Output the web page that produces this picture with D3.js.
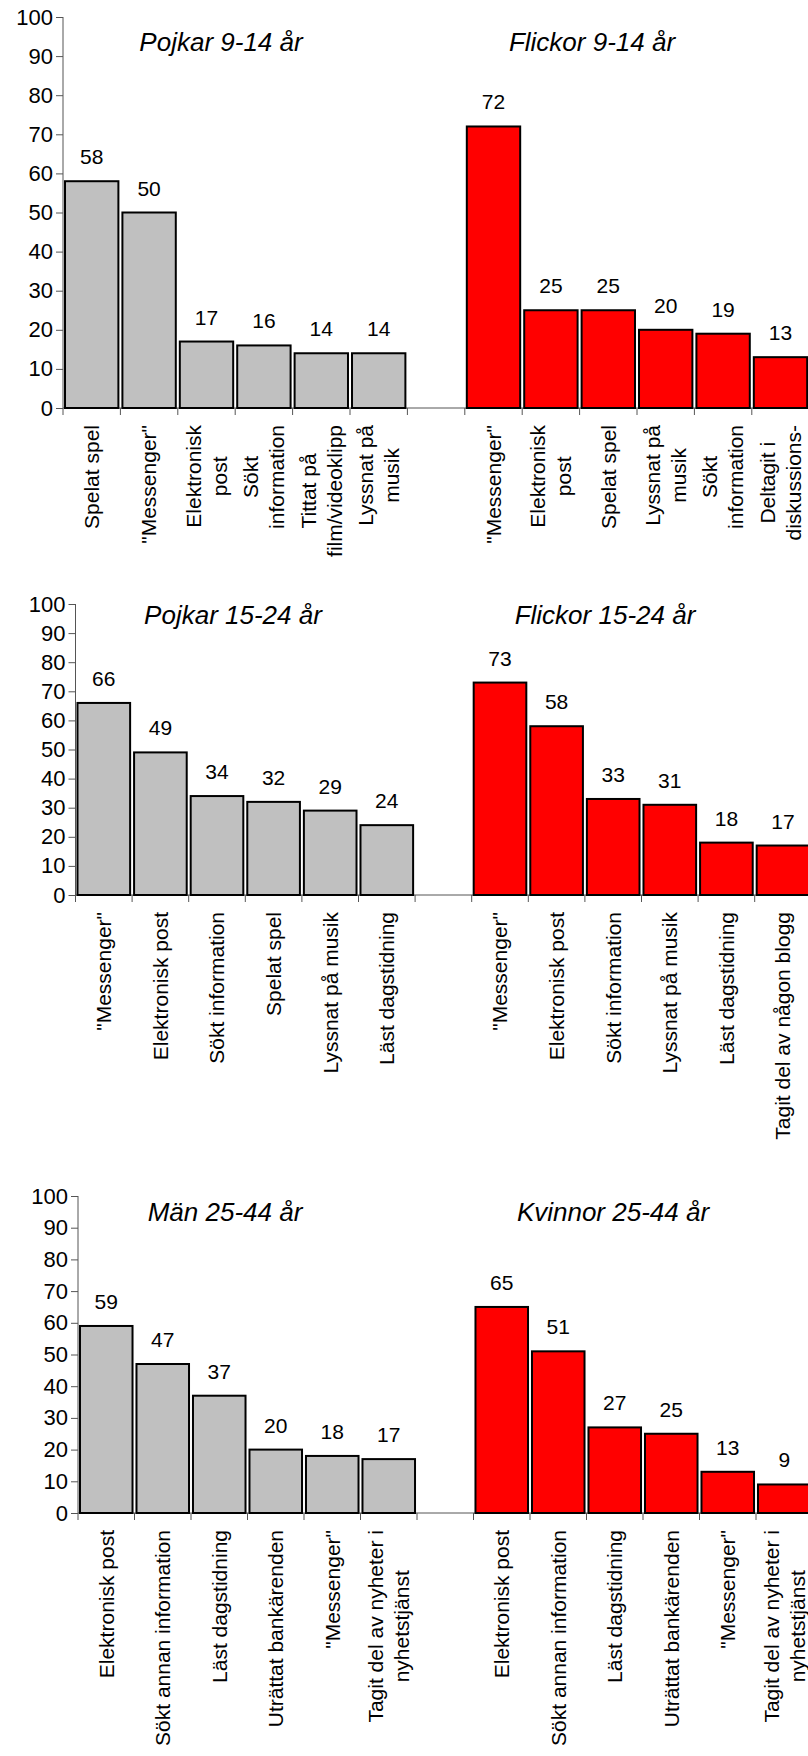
<!DOCTYPE html>
<html>
<head>
<meta charset="utf-8">
<script src="https://cdn.jsdelivr.net/npm/d3@7"></script>
<style>
  body { margin: 0; background: #fff; }
  svg { display: block; font-family: "Liberation Sans", Arial, sans-serif; }
</style>
</head>
<body>
<svg id="chart" width="808" height="1756"></svg>
<script>
// categories ("|" marks a line break in the axis label)
const boys914Cats = ['Spelat spel', '"Messenger"', 'Elektronisk|post', 'Sökt|information', 'Tittat på|film/videoklipp', 'Lyssnat på|musik']
const girls914Cats = ['"Messenger"', 'Elektronisk|post', 'Spelat spel', 'Lyssnat på|musik', 'Sökt|information', 'Deltagit i|diskussions-']
const boys1524Cats = ['"Messenger"', 'Elektronisk post', 'Sökt information', 'Spelat spel', 'Lyssnat på musik', 'Läst dagstidning']
const girls1524Cats = ['"Messenger"', 'Elektronisk post', 'Sökt information', 'Lyssnat på musik', 'Läst dagstidning', 'Tagit del av någon blogg']
const men2544Cats = ['Elektronisk post', 'Sökt annan information', 'Läst dagstidning', 'Uträttat bankärenden', '"Messenger"', 'Tagit del av nyheter i|nyhetstjänst']
const women2544Cats = ['Elektronisk post', 'Sökt annan information', 'Läst dagstidning', 'Uträttat bankärenden', '"Messenger"', 'Tagit del av nyheter i|nyhetstjänst']

// values (percent)
const boys914 = [58, 50, 17, 16, 14, 14]
const girls914 = [72, 25, 25, 20, 19, 13]
const boys1524 = [66, 49, 34, 32, 29, 24]
const girls1524 = [73, 58, 33, 31, 18, 17]
const men2544 = [59, 47, 37, 20, 18, 17]
const women2544 = [65, 51, 27, 25, 13, 9]

const yTicks = [0, 10, 20, 30, 40, 50, 60, 70, 80, 90, 100]

const panels = [
  { left: { title: 'Pojkar 9-14 år', cats: boys914Cats, values: boys914 },
    right: { title: 'Flickor 9-14 år', cats: girls914Cats, values: girls914 },
    axisX: 63, band: 57.4, top: 17, bottom: 408, titleY: 51, titleX: [221, 592] },
  { left: { title: 'Pojkar 15-24 år', cats: boys1524Cats, values: boys1524 },
    right: { title: 'Flickor 15-24 år', cats: girls1524Cats, values: girls1524 },
    axisX: 75.5, band: 56.6, top: 604, bottom: 895, titleY: 624, titleX: [233, 605] },
  { left: { title: 'Män 25-44 år', cats: men2544Cats, values: men2544 },
    right: { title: 'Kvinnor 25-44 år', cats: women2544Cats, values: women2544 },
    axisX: 78, band: 56.5, top: 1196, bottom: 1513, titleY: 1221, titleX: [225, 613] }
]

const svg = d3.select('#chart')
const labelSize = 21
const lineHeight = 26

// measure text length for centring the wrapped labels
const measure = svg.append('text').attr('font-size', labelSize).attr('visibility', 'hidden')
const textLen = s => { measure.text(s); return measure.node().getComputedTextLength() }

panels.forEach(p => {
  const rows = []
  p.left.cats.forEach((c, i) => rows.push({ key: 'L' + i, cat: c, value: p.left.values[i], fill: '#c0c0c0' }))
  rows.push({ key: 'gap', cat: '', value: null })
  p.right.cats.forEach((c, i) => rows.push({ key: 'R' + i, cat: c, value: p.right.values[i], fill: '#ff0000' }))

  const x = d3.scaleBand()
    .domain(rows.map(d => d.key))
    .range([p.axisX, p.axisX + rows.length * p.band])
    .paddingInner(0.07)
    .paddingOuter(0.035)

  const y = d3.scaleLinear()
    .domain([0, 100])
    .range([p.bottom, p.top])

  const g = svg.append('g')

  // y axis
  const yAxis = g.append('g')
    .attr('transform', 'translate(' + p.axisX + ',0)')
    .call(d3.axisLeft(y).tickValues(yTicks).tickSize(7).tickPadding(3))
  yAxis.selectAll('text').attr('font-size', 22).attr('fill', '#000')
  yAxis.selectAll('line, path').attr('stroke', '#555')
  yAxis.select('.domain').attr('d', 'M0,' + y(0) + 'V' + y(100))

  // x axis: ticks at band boundaries
  const bounds = d3.range(rows.length + 1).map(i => p.axisX + i * p.band)
  g.append('line')
    .attr('x1', p.axisX).attr('x2', bounds[bounds.length - 1])
    .attr('y1', y(0)).attr('y2', y(0))
    .attr('stroke', '#555')
  g.selectAll('.xtick')
    .data(bounds)
    .enter().append('line')
    .attr('x1', d => d).attr('x2', d => d)
    .attr('y1', y(0)).attr('y2', y(0) + 7)
    .attr('stroke', '#555')

  const data = rows.filter(d => d.value !== null)

  g.selectAll('.bar')
    .data(data)
    .enter().append('rect')
    .attr('x', d => x(d.key))
    .attr('width', x.bandwidth())
    .attr('y', d => y(d.value))
    .attr('height', d => y(0) - y(d.value))
    .attr('fill', d => d.fill)
    .attr('stroke', '#000')
    .attr('stroke-width', 2)

  g.selectAll('.val')
    .data(data)
    .enter().append('text')
    .text(d => d.value)
    .attr('x', d => x(d.key) + x.bandwidth() / 2)
    .attr('y', d => y(d.value) - 17)
    .attr('text-anchor', 'middle')
    .attr('font-size', 21)

  // category labels, rotated, longest line starting just below the axis
  data.forEach(d => {
    const lines = d.cat.split('|')
    const maxLen = d3.max(lines, textLen)
    const cy = y(0) + 17 + maxLen / 2
    const cx = x(d.key) + x.bandwidth() / 2
    lines.forEach((line, i) => {
      const lx = cx + (i - (lines.length - 1) / 2) * lineHeight
      g.append('text')
        .text(line)
        .attr('transform', 'translate(' + lx + ',' + cy + ') rotate(-90)')
        .attr('text-anchor', 'middle')
        .attr('dy', '0.35em')
        .attr('font-size', labelSize)
    })
  })

  // titles
  g.selectAll('.title')
    .data([p.left.title, p.right.title])
    .enter().append('text')
    .text(d => d)
    .attr('x', (d, i) => p.titleX[i])
    .attr('y', p.titleY)
    .attr('text-anchor', 'middle')
    .attr('font-style', 'italic')
    .attr('font-size', 26)
})

measure.remove()
</script>
</body>
</html>
